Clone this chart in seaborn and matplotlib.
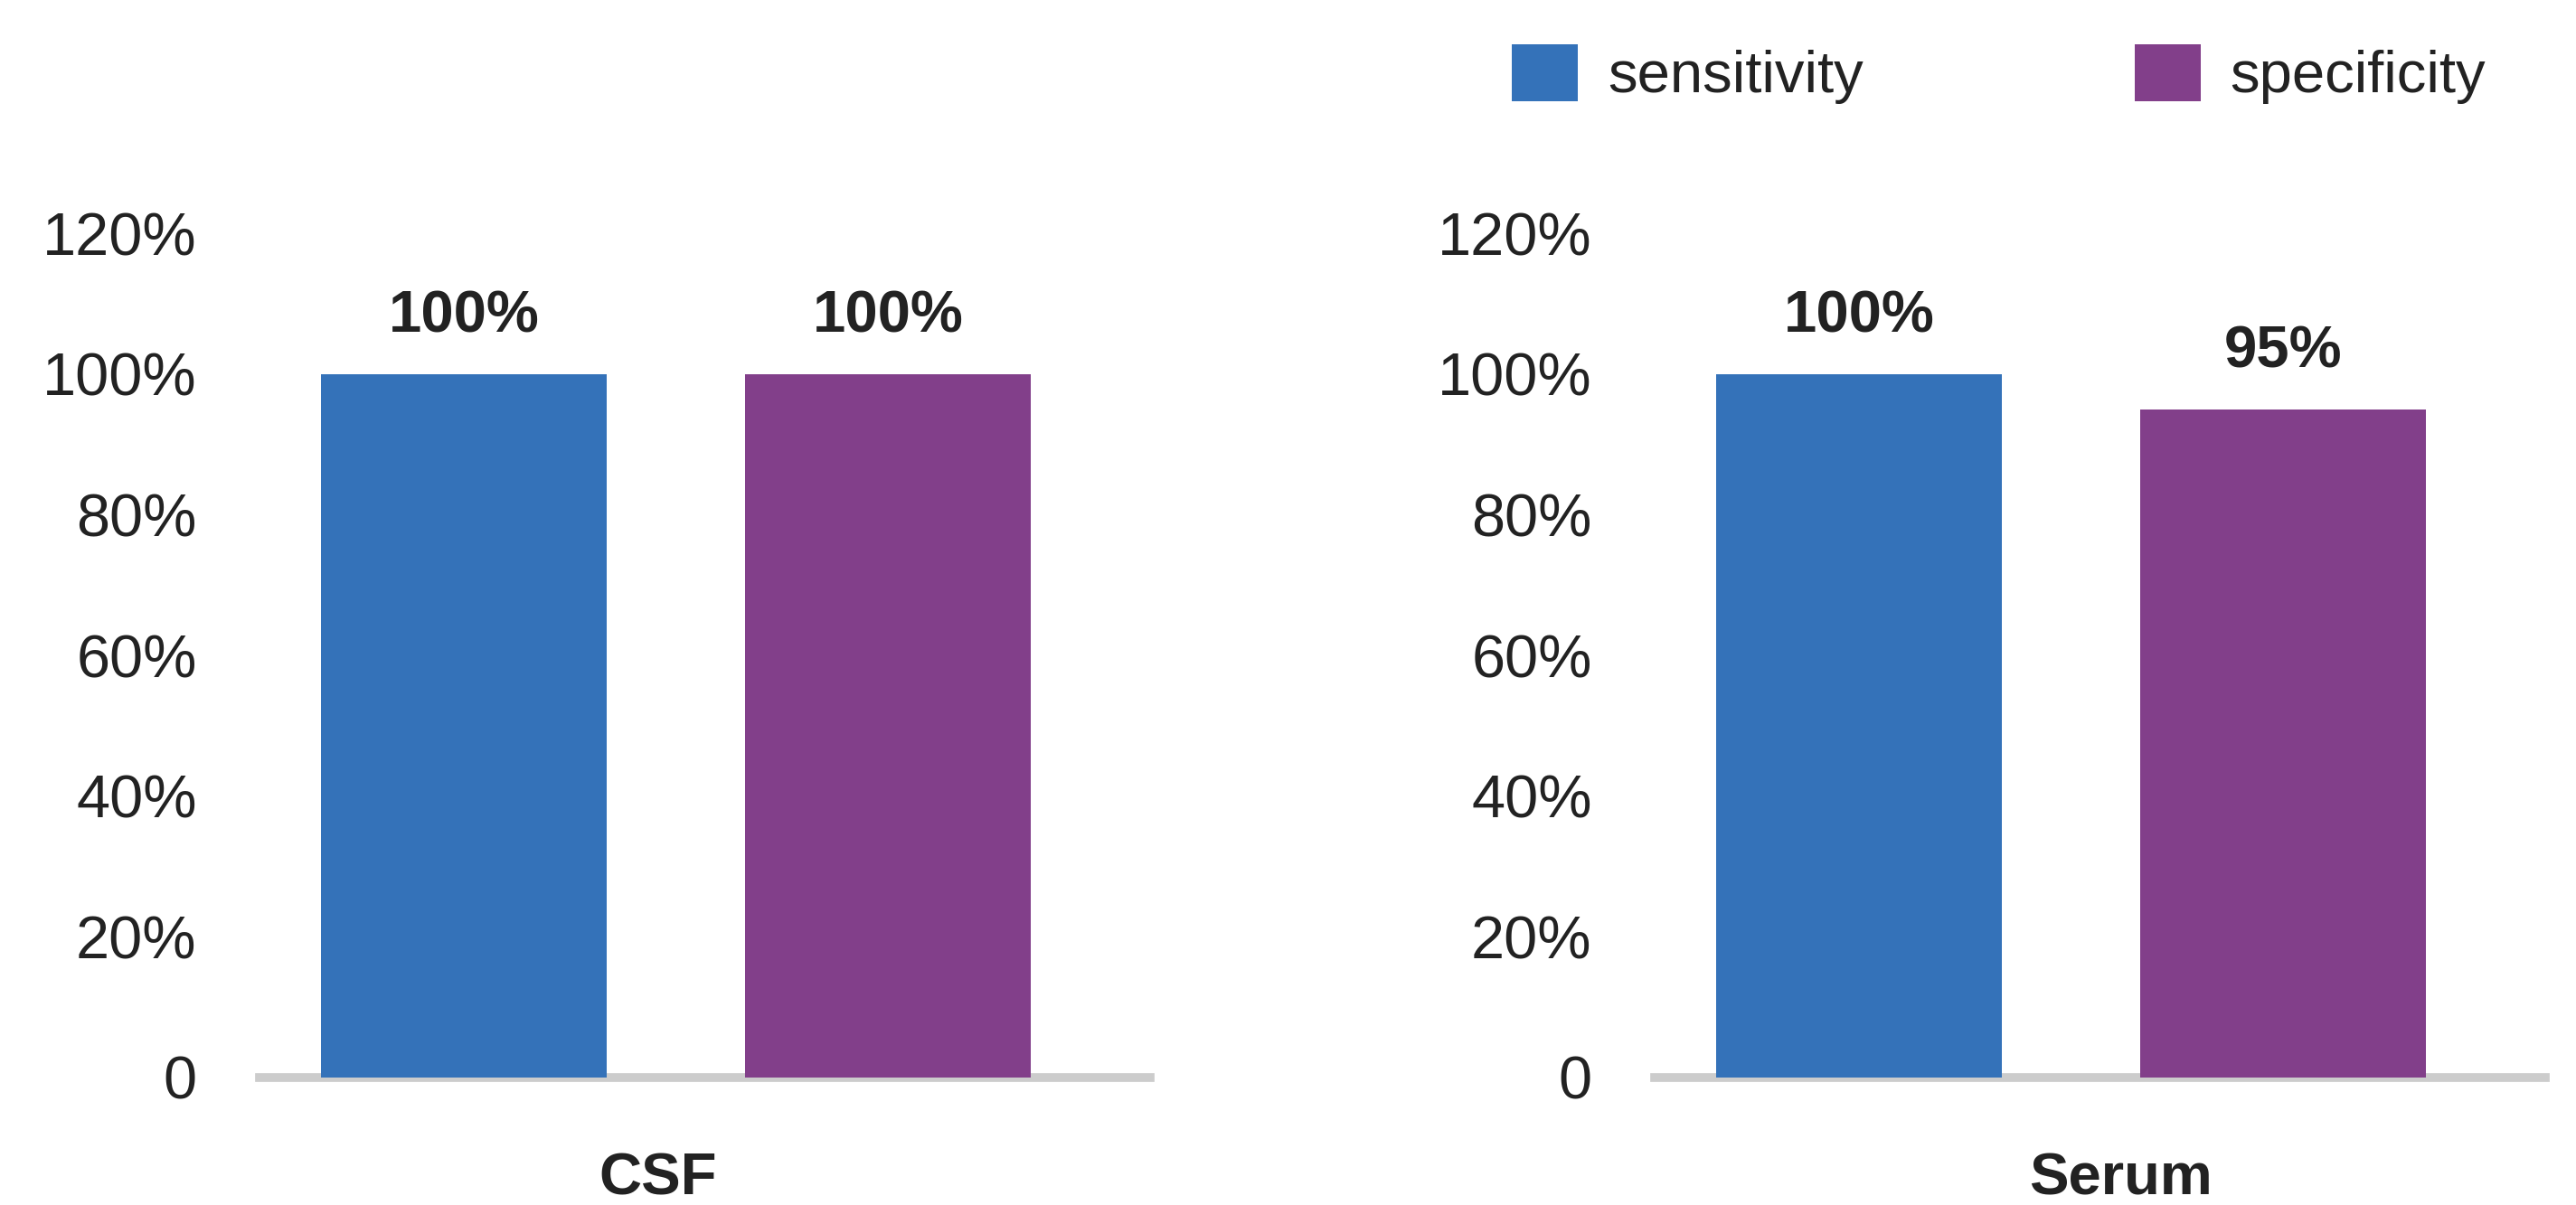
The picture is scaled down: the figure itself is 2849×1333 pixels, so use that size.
import matplotlib
matplotlib.use("Agg")
import matplotlib.pyplot as plt
import seaborn as sns
import pandas as pd

# ---- data ----
groups = ["CSF", "CSF", "Serum", "Serum"]
metrics = ["sensitivity", "specificity", "sensitivity", "specificity"]
values = [100, 100, 100, 95]
panel_order = ["CSF", "Serum"]
metric_order = ["sensitivity", "specificity"]
ytick_vals = [0, 20, 40, 60, 80, 100, 120]
ytick_labels = ["0", "20%", "40%", "60%", "80%", "100%", "120%"]
colors = {"sensitivity": "#3472B9", "specificity": "#823F8A"}

df = pd.DataFrame({"group": groups, "metric": metrics, "value": values})

sns.set_theme(style="white")
plt.rcParams["font.family"] = ["Liberation Sans", "DejaVu Sans"]
TXT = "#222222"
FS = 47

W, H = 2849, 1333
fig = plt.figure(figsize=(W / 100, H / 100), dpi=100)

bottom = (H - 1192) / H
height = 1.25 * 778 / H
axes_left = [287 / W, 1830 / W]
axes_width = 985 / W
label_x = [0.447, 0.523]

for i, g in enumerate(panel_order):
    ax = fig.add_axes([axes_left[i], bottom, axes_width, height])
    sub = df[df["group"] == g]
    sns.barplot(data=sub, x="group", y="value", hue="metric",
                hue_order=metric_order, palette=colors, width=0.8, gap=0.326,
                saturation=1, ax=ax, legend=(i == 1), errorbar=None)
    for p in ax.patches:
        p.set_zorder(3)
        p.set_linewidth(0)
    for c in ax.containers:
        ax.bar_label(c, labels=[f"{v:.0f}%" for v in c.datavalues],
                     padding=24, fontsize=FS, fontweight="bold", color=TXT,
                     zorder=4)
    ax.set_ylim(0, 125)
    ax.set_xlim(-0.393, 0.447)
    ax.set_yticks(ytick_vals)
    ax.set_yticklabels(ytick_labels)
    ax.tick_params(axis="y", labelsize=48, colors=TXT, length=0, pad=50)
    ax.tick_params(axis="x", length=0, labelbottom=False)
    ax.set_ylabel("")
    ax.set_xlabel(g, fontsize=FS, fontweight="bold", color=TXT)
    ax.xaxis.set_label_coords(label_x[i], -0.085)
    for s in ["top", "right", "left"]:
        ax.spines[s].set_visible(False)
    ax.spines["bottom"].set_color("#CCCCCC")
    ax.spines["bottom"].set_linewidth(7)
    ax.spines["bottom"].set_zorder(2)
    ax.grid(False)
    if i == 1:
        handles, labels = ax.get_legend_handles_labels()
        ax.get_legend().remove()

fig.legend(handles, labels, loc="center left",
           bbox_to_anchor=(1672 / W, 1 - 82 / H), ncol=2, frameon=False,
           fontsize=FS, handlelength=1.12, handleheight=1.12,
           handletextpad=0.5, columnspacing=4.6, borderpad=0,
           borderaxespad=0, labelcolor=TXT)

fig.savefig("out.png", dpi=100, facecolor="white")
